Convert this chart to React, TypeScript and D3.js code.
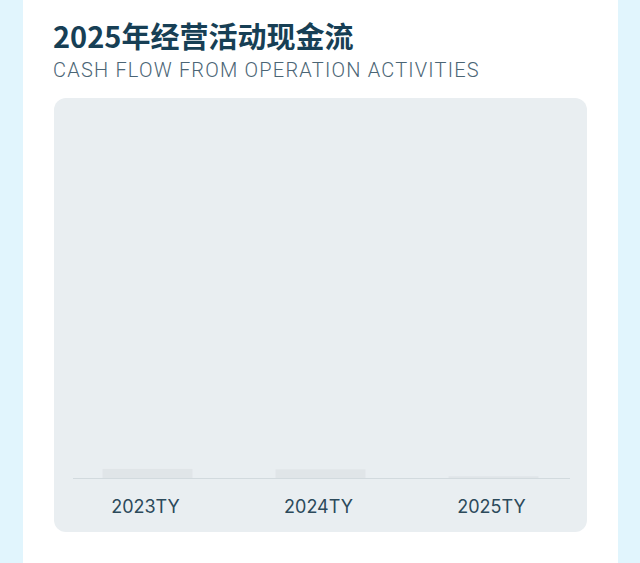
import React, { useEffect, useRef } from 'react';
import * as d3 from 'd3';

const categories = ['2023TY', '2024TY', '2025TY'];
const cashFlow = [2.6, 2.5, 0.5];
const yMax = 100;

const title = '2025年经营活动现金流';
const subtitle = 'CASH FLOW FROM OPERATION ACTIVITIES';

const W = 640;
const H = 563;

const App: React.FC = () => {
  const svgRef = useRef<SVGSVGElement>(null);

  useEffect(() => {
    if (!svgRef.current) return;
    document.body.style.margin = '0';

    const svg = d3.select(svgRef.current);
    svg.selectAll('*').remove();
    svg.attr('width', W).attr('height', H);

    // page + card
    svg.append('rect').attr('width', W).attr('height', H).attr('fill', '#e1f5fd');
    svg.append('rect').attr('x', 23).attr('y', 0).attr('width', 595).attr('height', H).attr('fill', '#ffffff');

    // headings
    svg.append('text')
      .attr('x', 53).attr('y', 48)
      .attr('fill', '#173f55')
      .style('font-family', '"Noto Sans CJK SC", "Noto Sans", sans-serif')
      .style('font-weight', '700')
      .style('font-size', '29px')
      .text(title);

    svg.append('text')
      .attr('x', 53).attr('y', 77)
      .attr('fill', '#4b6575')
      .style('font-family', 'Roboto, "Noto Sans", sans-serif')
      .style('font-weight', '300')
      .style('font-size', '20px')
      .style('letter-spacing', '1.2px')
      .text(subtitle);

    // chart panel
    svg.append('rect')
      .attr('x', 54).attr('y', 98)
      .attr('width', 533).attr('height', 434)
      .attr('rx', 12)
      .attr('fill', '#e9eef1');

    const baseY = 478;

    const x = d3.scaleBand<string>()
      .domain(categories)
      .range([61, 580])
      .paddingInner(0.48)
      .paddingOuter(0.24);

    const y = d3.scaleLinear().domain([0, yMax]).range([baseY, 130]);

    const data = categories.map((c, i) => ({ c, v: cashFlow[i] }));

    svg.append('g')
      .selectAll('rect')
      .data(data)
      .enter()
      .append('rect')
      .attr('x', d => x(d.c) || 0)
      .attr('y', d => y(d.v))
      .attr('width', x.bandwidth())
      .attr('height', d => baseY - y(d.v))
      .attr('fill', '#e0e5e8');

    // baseline
    svg.append('line')
      .attr('x1', 73).attr('x2', 570)
      .attr('y1', baseY + 0.5).attr('y2', baseY + 0.5)
      .attr('stroke', '#d2dade')
      .attr('stroke-width', 1);

    // category labels
    const axis = svg.append('g')
      .attr('transform', `translate(-2,${baseY})`)
      .call(d3.axisBottom(x).tickSize(0).tickPadding(22));
    axis.select('.domain').remove();
    axis.selectAll('text')
      .attr('fill', '#2c4a5b')
      .style('font-family', 'Inter, "Noto Sans", sans-serif')
      .style('font-size', '18px');
  }, []);

  return (
    <div style={{ position: 'absolute', left: 0, top: 0 }}>
      <svg ref={svgRef}></svg>
    </div>
  );
};

export default App;
